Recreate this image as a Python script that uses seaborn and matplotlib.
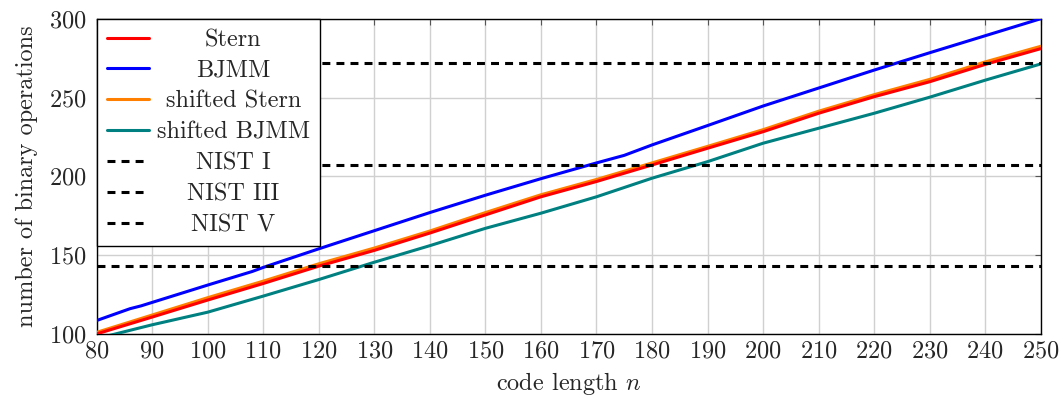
import numpy as np
import pandas as pd
import matplotlib
matplotlib.use("Agg")
import matplotlib.pyplot as plt
import seaborn as sns

# values
n_bjmm = [80, 86, 88, 90, 100, 108, 110, 120, 130, 140, 150, 160, 170, 175, 180, 190, 200, 210, 220, 230, 240, 250]
bjmm = [108.5, 116, 117.8, 120, 131, 139.6, 142.2, 154, 165.5, 177, 188, 198.5, 208.5, 213.3, 219.9, 232.2, 244.6, 256, 267.4, 278.4, 289.2, 300]

n = [80, 90, 100, 110, 120, 130, 140, 150, 160, 170, 180, 190, 200, 210, 220, 230, 240, 250]
stern = [100, 110.7, 121.5, 132, 143, 153, 164, 175.5, 187, 196.7, 207.2, 217.8, 228.3, 240, 250.5, 260, 271, 281]
shifted_stern = [101, 112, 123, 133.5, 144.5, 154.5, 165.3, 177, 188.3, 198, 208.5, 219, 229.6, 241.3, 251.8, 261.5, 272.6, 282.5]
shifted_bjmm = [97, 105.8, 113.8, 124, 134.5, 145.5, 156, 167, 176.6, 187, 198.8, 209.3, 221, 230.5, 240, 250.2, 261, 271.3]

nist_names = ["NIST I", "NIST III", "NIST V"]
nist_levels = [143, 207, 272]

sns.set_style("white")
plt.rcParams["font.family"] = "cmr10"
plt.rcParams["mathtext.fontset"] = "cm"
plt.rcParams["axes.formatter.use_mathtext"] = True
fs = 17.5

fig, ax = plt.subplots(figsize=(10.62, 3.98), dpi=100)
fig.subplots_adjust(left=0.091, right=0.980, top=0.953, bottom=0.161)

lw = 2.2
sns.lineplot(x=n, y=stern, color=(1, 0, 0), lw=lw, label="Stern", ax=ax, zorder=3)
sns.lineplot(x=n_bjmm, y=bjmm, color=(0, 0, 1), lw=lw, label="BJMM", ax=ax, zorder=3)
sns.lineplot(x=n, y=shifted_stern, color=(1, 0.5, 0), lw=lw, label="shifted Stern", ax=ax, zorder=2.9)
sns.lineplot(x=n, y=shifted_bjmm, color=(0, 0.5, 0.5), lw=lw, label="shifted BJMM", ax=ax, zorder=3)
for name, lvl in zip(nist_names, nist_levels):
    ax.axhline(lvl, color="black", lw=lw, dashes=(2.6, 2.0), label=name, zorder=3)

ax.set_xlim(80, 250)
ax.set_ylim(100, 300)
ax.set_xticks(np.arange(80, 251, 10))
ax.set_yticks([100, 150, 200, 250, 300])
ax.grid(True, color="#d0d0d0", lw=1)
ax.tick_params(direction="in", top=True, right=True, length=4, color="#555555",
               labelsize=fs)
ax.tick_params(axis="x", pad=5)
ax.tick_params(axis="y", pad=7)
for s in ax.spines.values():
    s.set_color("black")
    s.set_linewidth(1)
ax.set_xlabel("code length $n$", fontsize=fs, labelpad=5)
ax.set_ylabel("number of binary operations", fontsize=fs, labelpad=8)

leg = ax.legend(loc="upper left", fontsize=fs, frameon=True, fancybox=False,
                framealpha=1, edgecolor="black", borderaxespad=0,
                handlelength=1.75, handletextpad=0.3, labelspacing=0.36,
                borderpad=0.42)
leg.get_frame().set_linewidth(1)
leg.set_zorder(10)

# centre the legend labels like pgfplots
fig.canvas.draw()
widths = [t.get_window_extent().width for t in leg.get_texts()]
wmax = max(widths)
for t, w in zip(leg.get_texts(), widths):
    t.set_position(((wmax - w) / 2, 0))

fig.savefig("out.png", dpi=100)
